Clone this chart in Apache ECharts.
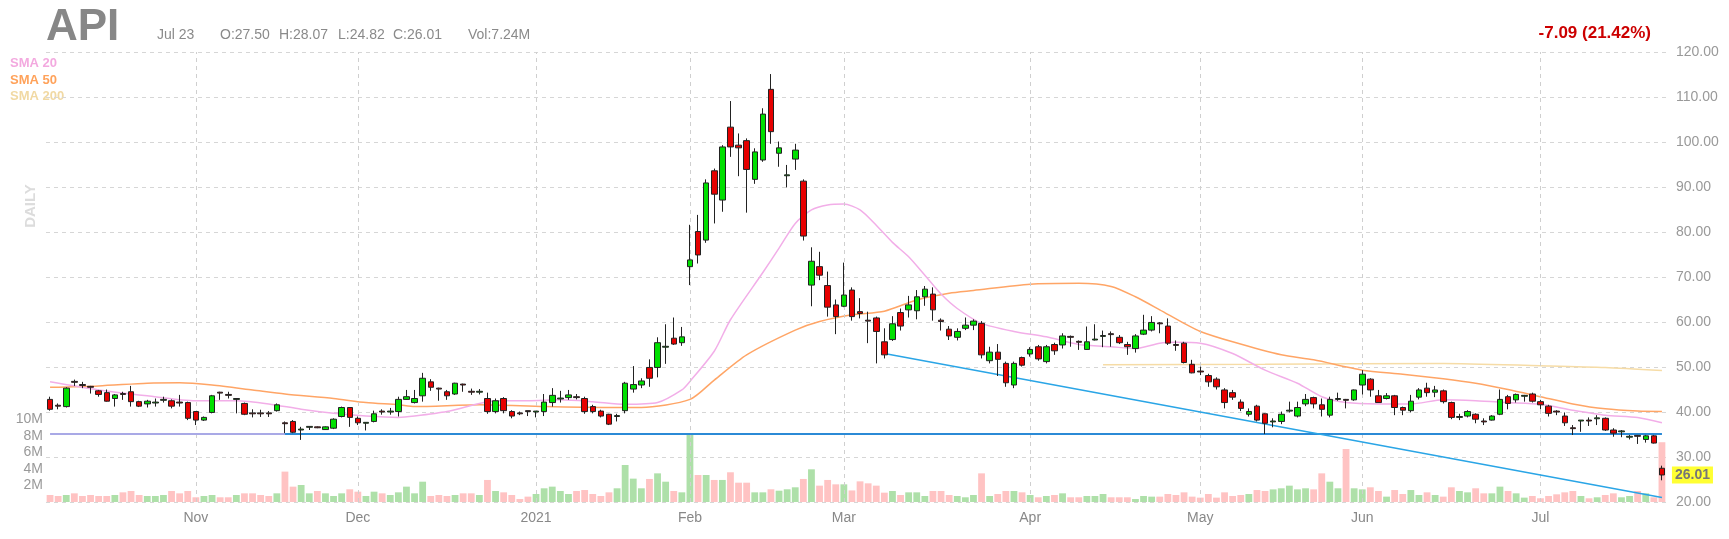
<!DOCTYPE html>
<html>
<head>
<meta charset="utf-8">
<title>API daily</title>
<script src="https://cdn.jsdelivr.net/npm/echarts@6/dist/echarts.min.js"></script>
<style>
  html, body { margin: 0; padding: 0; background: #fff; }
  #chart { width: 1729px; height: 539px; }
</style>
</head>
<body>
<div id="chart"></div>
<script>
// [open, high, low, close] per trading day, Oct 7 2020 .. Jul 23 2021
const candles = [
  [42.8,43.4,40.3,40.6],[41.5,41.9,40.6,41.3],[41.2,45.5,41.0,45.3],[46.8,47.2,45.8,46.6],[46.1,46.7,45.3,45.9],
  [45.7,45.8,44.1,45.5],[44.7,44.9,43.4,43.9],[44.3,45.0,42.3,42.4],[43.0,44.0,41.2,43.8],[44.1,44.5,42.7,43.9],
  [44.5,45.8,41.2,42.3],[42.3,42.5,41.1,41.3],[41.8,42.7,41.0,42.4],[42.0,43.0,41.2,42.2],[42.6,43.4,42.1,42.8],
  [42.5,42.8,40.8,41.3],[42.2,43.8,41.2,42.0],[42.1,42.3,38.2,38.6],[40.1,40.2,37.1,38.2],[38.2,39.0,38.0,38.8],
  [39.9,43.8,39.7,43.6],[44.4,44.5,42.7,44.2],[43.9,44.5,43.0,43.7],[42.8,42.9,39.7,43.0],[41.9,42.1,39.3,39.5],
  [39.8,40.6,38.8,39.6],[39.8,40.5,38.9,39.6],[39.8,40.2,38.9,39.6],[40.3,41.9,40.1,41.6],[37.6,37.9,35.3,37.4],
  [37.9,38.2,35.3,35.5],[36.0,36.7,33.8,36.2],[36.6,36.8,36.0,36.8],[36.7,36.8,36.4,36.5],[36.1,36.8,36.0,36.7],
  [36.4,38.6,36.2,38.4],[39.0,41.2,38.8,41.0],[41.0,41.1,36.7,38.8],[38.6,39.0,37.1,37.6],[37.5,37.7,35.9,37.7],
  [37.9,40.3,37.7,39.6],[40.2,40.6,39.4,40.0],[40.0,40.9,39.4,40.2],[40.1,43.4,39.0,42.8],[42.8,44.9,42.7,43.4],
  [42.1,44.9,41.9,43.0],[43.6,48.7,42.3,47.5],[46.7,47.3,44.7,45.5],[45.3,45.4,42.5,45.1],[44.5,44.9,42.7,43.6],
  [44.0,46.5,43.8,46.4],[46.2,46.3,44.5,46.0],[44.6,45.2,43.8,44.4],[44.4,45.1,43.9,44.6],[43.0,44.3,39.6,40.1],
  [40.1,43.0,39.7,42.5],[43.0,43.3,39.7,40.3],[40.1,40.4,38.6,39.1],[39.8,40.1,39.3,39.6],[40.3,40.3,39.1,40.1],
  [40.0,40.2,38.8,40.2],[40.1,44.0,39.1,42.2],[42.1,45.3,41.2,43.7],[42.9,44.7,42.1,43.1],[43.2,44.9,42.7,43.8],
  [43.4,44.0,42.8,43.2],[43.0,43.4,39.6,40.1],[41.2,41.6,39.7,40.1],[40.2,40.5,38.8,39.1],[39.5,39.6,37.1,37.3],
  [39.0,39.6,37.9,39.2],[40.3,46.7,39.7,46.4],[45.1,50.2,44.3,46.1],[46.0,47.5,45.3,46.9],[49.9,51.7,45.6,47.5],
  [49.9,56.6,47.7,55.4],[54.4,59.5,50.7,54.6],[56.4,61.0,54.9,55.1],[55.4,58.9,54.7,56.7],[72.3,81.6,68.2,73.8],
  [80.1,83.8,73.0,74.9],[78.2,91.7,77.6,90.9],[93.6,94.1,81.9,88.4],[87.1,99.3,84.5,98.9],[103.3,109.1,96.7,98.9],
  [99.3,101.9,92.4,98.7],[100.3,100.8,84.3,93.9],[91.7,98.6,90.7,97.8],[96.0,107.5,95.6,106.2],[111.7,115.1,99.6,102.3],
  [97.5,100.1,94.5,98.7],[92.5,94.9,89.9,92.7],[96.2,99.6,93.8,98.2],[91.3,91.7,78.1,79.1],[68.2,76.6,63.5,73.5],
  [72.3,75.6,69.3,70.4],[68.1,71.2,61.2,63.3],[63.8,65.0,57.3,61.2],[63.5,73.2,63.3,66.0],[67.1,67.7,60.3,61.2],
  [62.3,65.3,60.8,61.9],[60.4,62.3,55.3,60.2],[60.9,61.2,50.8,57.9],[55.6,58.6,51.9,52.7],[56.1,61.3,55.8,59.6],
  [62.1,63.0,58.1,59.1],[62.7,65.8,61.0,63.8],[62.5,67.1,60.6,65.6],[65.6,68.0,63.6,67.3],[66.2,67.7,60.3,62.7],
  [60.4,60.8,58.1,60.1],[58.4,59.1,56.0,56.9],[56.6,58.6,55.9,57.9],[58.6,61.0,58.2,59.3],[59.3,60.6,58.2,60.2],
  [59.7,60.2,51.9,52.7],[51.4,54.5,50.8,53.3],[53.3,55.1,48.0,51.7],[50.8,51.2,45.6,46.5],[46.0,51.2,45.3,50.8],
  [52.1,52.3,50.1,50.4],[52.9,54.4,52.3,53.9],[54.5,54.9,51.4,51.8],[51.2,54.9,50.8,54.5],[55.0,55.4,52.7,53.6],
  [54.9,57.5,54.1,56.9],[56.8,57.0,54.5,56.6],[55.7,55.9,53.8,55.5],[53.9,59.0,53.8,55.6],[56.0,59.5,55.9,56.2],
  [56.8,58.1,54.4,57.0],[57.4,57.9,54.5,57.2],[56.6,57.1,55.1,55.4],[55.0,55.6,52.7,54.5],[54.1,57.3,53.2,56.9],
  [57.3,61.6,57.1,58.2],[58.2,61.3,57.9,59.9],[59.8,60.0,57.5,59.6],[59.1,60.8,54.9,55.3],[55.0,55.9,53.6,54.8],
  [55.3,55.6,50.8,51.0],[50.6,51.6,48.6,48.7],[49.1,50.1,48.2,48.9],[48.1,48.5,45.6,46.7],[47.3,47.7,45.0,45.6],
  [44.9,45.3,40.8,42.1],[44.3,44.9,42.7,43.3],[42.2,42.8,40.2,40.8],[39.5,40.8,39.0,40.1],[41.3,41.6,37.9,38.2],
  [39.6,39.7,35.1,37.5],[37.8,38.6,36.6,38.0],[37.9,40.1,37.3,39.5],[40.2,42.3,39.9,40.4],[39.1,42.3,38.8,41.0],
  [41.8,44.0,41.3,42.8],[43.2,43.4,40.8,41.8],[41.6,43.0,39.0,40.6],[39.3,43.4,38.8,42.8],[42.8,44.3,42.5,43.0],
  [42.8,42.9,40.8,42.6],[42.7,45.0,42.5,44.9],[46.0,49.3,43.9,48.4],[47.3,47.5,43.4,44.9],[43.6,44.9,42.1,42.1],
  [43.0,44.2,42.8,43.6],[43.6,43.8,39.3,41.0],[41.0,41.2,39.3,40.4],[40.3,43.8,39.9,42.4],[43.3,45.3,42.8,44.9],
  [45.3,46.5,43.4,44.3],[44.4,45.8,43.3,44.9],[44.7,45.0,41.9,42.3],[42.1,42.3,38.4,38.8],[38.8,39.6,38.2,39.0],
  [39.1,40.4,38.8,40.1],[39.5,39.7,37.5,38.4],[38.0,38.6,37.1,37.8],[38.2,39.3,38.1,39.1],[39.5,45.0,39.3,42.8],
  [43.4,43.8,40.6,41.9],[42.7,44.1,42.1,43.9],[43.5,43.8,42.3,43.7],[44.0,44.3,42.1,42.4],[42.3,42.7,40.6,41.6],
  [41.3,41.6,39.0,39.7],[40.2,40.4,39.3,40.0],[39.1,39.9,36.9,37.6],[36.5,37.1,34.9,36.3],[38.0,38.2,35.6,38.2],
  [38.2,38.8,36.9,38.0],[38.5,39.3,37.1,38.7],[38.6,38.8,35.8,36.0],[36.0,36.4,34.5,35.3],[35.6,36.0,34.4,35.8],
  [34.4,34.9,33.9,34.6],[34.8,34.9,32.9,34.6],[33.9,34.9,33.2,34.7],[34.7,34.9,33.0,33.10],[27.50,28.07,24.82,26.01]
];

// volume in millions
const volumes = [
  0.85,0.73,0.85,1.05,0.73,0.85,0.73,0.73,0.85,1.17,1.33,0.85,0.73,0.73,0.85,1.33,1.05,1.33,0.57,0.73,
  0.85,0.57,0.57,0.85,1.05,1.05,0.85,0.73,1.05,3.68,1.86,2.06,1.05,1.33,1.05,0.73,1.05,1.54,1.25,0.73,
  1.25,1.05,0.85,1.17,1.86,1.05,2.46,0.73,0.85,0.73,0.85,1.05,1.05,0.85,2.67,1.33,1.17,0.85,0.36,0.65,
  0.97,1.66,1.86,1.33,0.97,1.33,1.45,0.97,0.73,1.17,1.66,4.48,2.83,1.66,2.79,3.47,2.46,1.33,1.17,8.3,
  3.27,3.27,2.67,2.67,3.6,2.34,2.34,1.17,1.17,1.54,1.37,1.54,1.78,2.79,3.96,1.98,2.67,2.14,2.14,1.4,
  2.5,2.26,1.98,1.13,1.33,0.85,1.17,1.17,0.73,1.33,1.33,0.85,0.73,0.57,0.85,3.47,0.73,0.97,1.33,1.33,
  1.17,0.85,0.57,0.73,0.85,1.05,0.57,0.57,0.73,0.73,0.97,0.57,0.57,0.57,0.36,0.73,0.65,0.65,0.97,0.85,
  1.17,0.65,0.53,0.97,0.53,1.17,0.73,0.85,0.97,1.45,1.33,1.53,1.66,1.98,1.53,1.66,1.53,3.47,2.46,1.66,
  6.42,1.66,1.53,1.78,1.33,0.65,1.45,0.97,1.45,0.85,1.17,0.85,0.65,1.78,1.33,1.17,1.66,1.05,1.05,1.86,
  1.33,1.05,0.53,0.73,0.45,0.73,0.93,1.17,1.33,0.73,0.45,0.57,0.85,1.05,0.57,0.73,1.33,1.05,0.57,7.24
];

// moving averages: [day index, value]
const sma20 = [
  [0,46.7],[6,44.9],[12,43.6],[18,42.5],[23,42.5],[27,41.8],[31,40.6],[35,39.7],[39,39.1],[43,38.8],
  [45,39.1],[49,40.1],[53,41.9],[55,42.5],[59,42.5],[63,42.7],[67,42.3],[71,41.7],[75,42.1],[78,44.9],
  [79,46.8],[82,53.5],[84,60.5],[88,71.0],[90,76.4],[92,81.9],[94,84.9],[96,86.0],[98,86.2],[100,84.9],
  [102,81.5],[104,77.7],[106,74.5],[108,70.4],[110,66.2],[112,63.0],[115,59.7],[119,57.9],[123,56.7],[127,55.0],
  [131,54.5],[134,54.1],[137,55.3],[139,55.5],[142,55.3],[146,53.0],[150,49.3],[154,46.4],[157,43.4],[160,42.1],
  [164,41.8],[168,41.8],[172,42.7],[176,42.5],[180,42.1],[184,41.7],[188,40.4],[192,39.3],[196,38.8],[199,37.6]
];
const sma50 = [
  [0,45.5],[6,45.8],[12,46.4],[16,46.5],[20,46.0],[25,44.9],[29,44.0],[35,43.0],[39,42.1],[43,41.6],
  [45,41.2],[53,41.6],[61,41.2],[69,41.0],[73,41.0],[79,42.8],[82,47.1],[86,52.7],[92,58.2],[95,60.1],
  [99,61.6],[103,62.4],[107,64.9],[111,66.4],[114,67.0],[121,68.4],[127,68.6],[131,67.9],[134,65.6],[137,62.7],
  [140,59.7],[142,57.9],[146,55.6],[152,52.7],[156,51.6],[162,49.3],[167,48.4],[172,47.4],[176,46.4],[180,45.0],
  [184,43.4],[188,41.8],[192,40.7],[196,40.2],[199,40.1]
];
const sma200 = [[130,50.5],[150,50.6],[172,50.8],[184,50.3],[192,49.9],[199,49.2]];

const monthStarts = [18, 38, 60, 79, 98, 121, 142, 162, 184];
const monthLabels = ['Nov', 'Dec', '2021', 'Feb', 'Mar', 'Apr', 'May', 'Jun', 'Jul'];

const supportLevel = 35.25;
const trendFrom = [103, 53.0];
const trendTo = [199, 21.0];
const lastClose = 26.01;

const FONT = 'Liberation Sans, Arial, sans-serif';
const chart = echarts.init(document.getElementById('chart'));

const days = candles.map((c, i) => i);
const kData = candles.map(c => [c[0], c[3], c[2], c[1]]);
const volData = volumes.map((v, i) => ({
  value: v,
  itemStyle: { color: candles[i][3] >= candles[i][0] ? '#aee0a9' : '#ffc3c3' }
}));

function smaSeries(name, data, color) {
  return {
    name, type: 'line', data, showSymbol: false, smooth: 0.25,
    lineStyle: { color, width: 1.5 }, silent: true, z: 3
  };
}

const option = {
  animation: false,
  backgroundColor: '#fff',
  grid: { left: 46, right: 63, top: 52, bottom: 37 },
  xAxis: {
    type: 'category',
    data: days,
    boundaryGap: true,
    axisLine: { show: false },
    axisTick: { show: false },
    splitLine: { show: false },
    axisLabel: {
      interval: (i) => monthStarts.includes(i),
      formatter: (v, i) => monthLabels[monthStarts.indexOf(i)] || '',
      color: '#888', fontSize: 14, fontFamily: FONT, margin: 9, hideOverlap: false
    }
  },
  yAxis: [
    {
      type: 'value', position: 'right', min: 20, max: 120, interval: 10,
      axisLine: { show: false }, axisTick: { show: false },
      axisLabel: { formatter: v => v.toFixed(2), color: '#999', fontSize: 14, fontFamily: FONT, margin: 10 },
      splitLine: { lineStyle: { color: '#d6d6d6', type: [4, 4] } }
    },
    {
      type: 'value', position: 'left', min: 0, max: 54.5, interval: 2,
      axisLine: { show: false }, axisTick: { show: false },
      axisLabel: {
        formatter: v => (v > 0 && v <= 10) ? v + 'M' : '',
        color: '#999', fontSize: 14, fontFamily: FONT, margin: 3
      },
      splitLine: { show: false }
    }
  ],
  series: [
    {
      name: 'Volume', type: 'bar', yAxisIndex: 1, data: volData,
      barCategoryGap: '16%', silent: true, z: 1,
      markLine: {
        silent: true, symbol: 'none', label: { show: false },
        lineStyle: { color: '#cfcfcf', type: [4, 4], width: 1 },
        data: monthStarts.map(i => ({ xAxis: i }))
      }
    },
    smaSeries('SMA 200', sma200, '#f6dca6'),
    smaSeries('SMA 50', sma50, '#ffa566'),
    smaSeries('SMA 20', sma20, '#f2aee8'),
    {
      name: 'API', type: 'candlestick', data: kData, barWidth: 6, z: 5,
      itemStyle: {
        color: '#00e000', color0: '#e60000',
        borderColor: '#222', borderColor0: '#222', borderColorDoji: '#222', borderWidth: 1
      },
      markLine: {
        silent: true, symbol: 'none', label: { show: false },
        data: [
          [{ coord: [0, supportLevel], lineStyle: { color: '#a9a9e6', width: 2, type: 'solid' } },
           { coord: [29, supportLevel] }],
          [{ coord: [29, supportLevel], lineStyle: { color: '#2b8ad6', width: 2, type: 'solid' } },
           { coord: [199, supportLevel] }],
          [{ coord: trendFrom, lineStyle: { color: '#2aa5e6', width: 1.5, type: 'solid' } },
           { coord: trendTo }]
        ]
      },
      markPoint: {
        silent: true, symbol: 'rect', symbolSize: [0, 0],
        data: [{
          coord: [199, lastClose], value: lastClose,
          label: {
            show: true, position: 'right', distance: 10, formatter: lastClose.toFixed(2),
            backgroundColor: '#ffff33', color: '#777', fontWeight: 'bold', fontSize: 14,
            fontFamily: FONT, padding: [2, 3, 1, 3]
          }
        }]
      }
    }
  ],
  graphic: [
    { type: 'text', left: 46, top: 6, style: { text: 'API', fill: '#878787', font: 'bold 44px ' + FONT } },
    { type: 'text', x: 157, y: 35, style: { text: 'Jul 23', fill: '#8a8a8a', font: '14px ' + FONT, verticalAlign: 'middle' } },
    { type: 'text', x: 220, y: 35, style: { text: 'O:27.50', fill: '#8a8a8a', font: '14px ' + FONT, verticalAlign: 'middle' } },
    { type: 'text', x: 279, y: 35, style: { text: 'H:28.07', fill: '#8a8a8a', font: '14px ' + FONT, verticalAlign: 'middle' } },
    { type: 'text', x: 338, y: 35, style: { text: 'L:24.82', fill: '#8a8a8a', font: '14px ' + FONT, verticalAlign: 'middle' } },
    { type: 'text', x: 393, y: 35, style: { text: 'C:26.01', fill: '#8a8a8a', font: '14px ' + FONT, verticalAlign: 'middle' } },
    { type: 'text', x: 468, y: 35, style: { text: 'Vol:7.24M', fill: '#8a8a8a', font: '14px ' + FONT, verticalAlign: 'middle' } },
    { type: 'text', x: 1651, y: 33, style: { text: '-7.09 (21.42%)', fill: '#cc0000', font: 'bold 17px ' + FONT, align: 'right', verticalAlign: 'middle' } },
    { type: 'text', x: 10, y: 63, style: { text: 'SMA 20', fill: '#f3a9df', font: 'bold 13px ' + FONT, verticalAlign: 'middle' } },
    { type: 'text', x: 10, y: 80, style: { text: 'SMA 50', fill: '#ffa25a', font: 'bold 13px ' + FONT, verticalAlign: 'middle' } },
    { type: 'text', x: 10, y: 96, style: { text: 'SMA 200', fill: '#f1d9a3', font: 'bold 13px ' + FONT, verticalAlign: 'middle' } },
    { type: 'text', x: 31, y: 206, rotation: Math.PI / 2, style: { text: 'DAILY', fill: '#dcdcdc', font: 'bold 15px ' + FONT, align: 'center', verticalAlign: 'middle' } }
  ]
};

chart.setOption(option);
</script>
</body>
</html>
